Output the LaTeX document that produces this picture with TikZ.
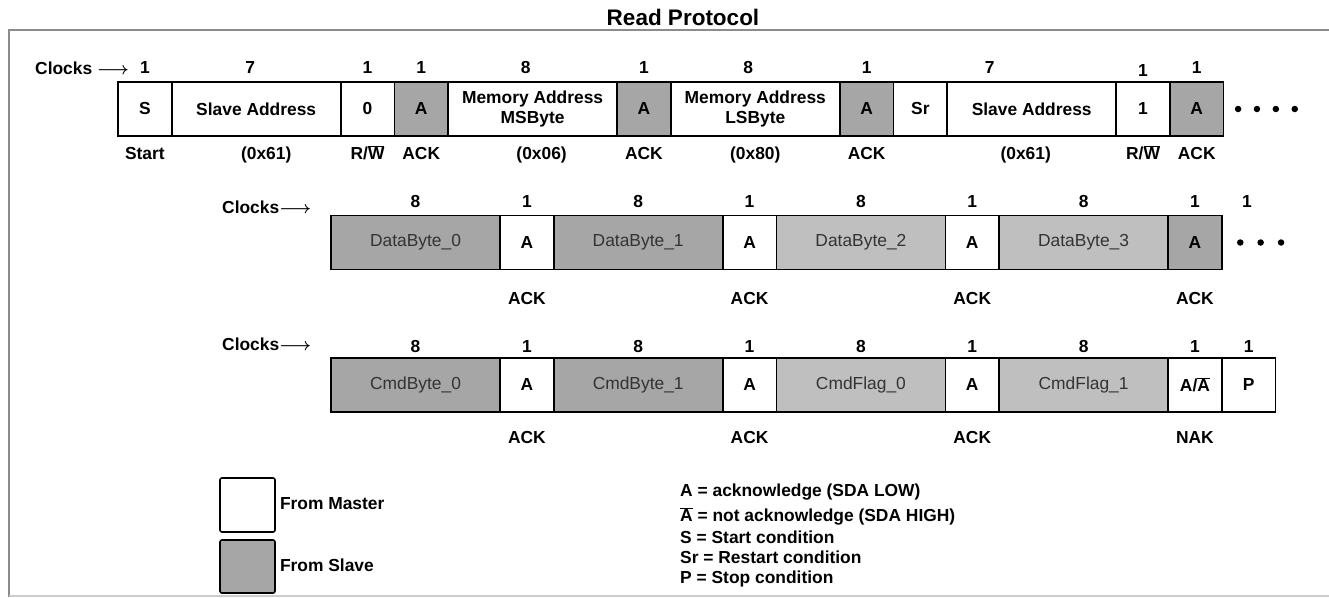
\documentclass[tikz,border=0pt]{standalone}
\usepackage{fontspec}
\setmainfont{Liberation Sans}
\usetikzlibrary{positioning}
\definecolor{slavegray}{rgb}{0.65,0.65,0.65}
\definecolor{datagray}{rgb}{0.75,0.75,0.75}
\definecolor{framegray}{rgb}{0.55,0.55,0.55}
\newcommand{\ovl}[1]{$\overline{\mbox{#1}}$}

\begin{document}
\begin{tikzpicture}[
x=1pt, y=-1pt,
node distance= 0pt,
bitbox/.style  = {draw, line width=1.6pt, fill=white,
                  minimum width=53.7pt, minimum height=54pt,
                  inner sep=0pt, outer sep=0pt, align=center,
                  font=\bfseries\fontsize{17.4}{20}\selectfont},
bytebox/.style = {bitbox, minimum width=169pt},
slavefill/.style = {fill=slavegray},
databox/.style = {bytebox, fill=#1, text=black!80,
                  font=\fontsize{17.4}{20}\selectfont},
numtext/.style = {inner sep=0pt, text height=12.5pt, text depth=3pt,
                  font=\bfseries\fontsize{17.4}{20}\selectfont},
clocks/.style  = {numtext, anchor=west,
                  font=\bfseries\boldmath\fontsize{17.4}{20}\selectfont},
moredot/.style = {circle, fill, inner sep=0pt, minimum size=6.5pt},
legendbox/.style = {draw, line width=1.6pt, rounded corners=2pt, fill=#1,
                  minimum width=55pt, minimum height=54pt},
                    ]
\useasboundingbox (0,0) rectangle (1329,597);
\draw[line width=2pt, framegray] (1329,30) -- (9,30) -- (9,597);
\draw[line width=1.2pt, black!20] (9,596) -- (1329,596);
\node[font=\bfseries\fontsize{22.5}{24}\selectfont] (title) at (683,17) {Read Protocol};

\node[bitbox] (s) at (144.85,109)         {S};
\node[bytebox,right=of s]       (sa1)    {Slave Address};
\node[bitbox,right=of sa1]      (w)      {0};
\node[bitbox,slavefill,right=of w]   (a1) {A};
\node[bytebox,right=of a1]      (msb)    {Memory Address\\MSByte};
\node[bitbox,slavefill,right=of msb] (a2) {A};
\node[bytebox,right=of a2]      (lsb)    {Memory Address\\LSByte};
\node[bitbox,slavefill,right=of lsb] (a3) {A};
\node[bitbox,right=of a3]       (sr)     {Sr};
\node[bytebox,right=of sr]      (sa2)    {Slave Address};
\node[bitbox,right=of sa2]      (r)      {1};
\node[bitbox,slavefill,right=of r]   (a4) {A};
\node[moredot,right=11pt of a4] (m1a) {};
\node[moredot,right=12pt of m1a] (m1b) {};
\node[moredot,right=12pt of m1b] (m1c) {};
\node[moredot,right=12pt of m1c] (m1d) {};

\node[clocks] (clk1) at (35,69.5) {Clocks $\longrightarrow$};
\node[numtext,above=5pt of s]               (n1a) {1};
\node[numtext,above=5pt of sa1,xshift=-6pt] (n1b) {7};
\node[numtext,above=5pt of w]               (n1c) {1};
\node[numtext,above=5pt of a1]              (n1d) {1};
\node[numtext,above=5pt of msb,xshift=-7pt] (n1e) {8};
\node[numtext,above=5pt of a2]              (n1f) {1};
\node[numtext,above=5pt of lsb,xshift=-7pt] (n1g) {8};
\node[numtext,above=5pt of a3]              (n1h) {1};
\node[numtext,above=5pt of sa2,xshift=-42pt] (n1i) {7};
\node[numtext,above=5pt of r,yshift=-3pt]   (n1j) {1};
\node[numtext,above=5pt of a4]              (n1k) {1};

\node[numtext,below=11pt of s]               (l1a) {Start};
\node[numtext,below=11pt of sa1,xshift=10pt] (l1b) {(0x61)};
\node[numtext,below=11pt of w]               (l1c) {R/\ovl{W}};
\node[numtext,below=11pt of a1]              (l1d) {ACK};
\node[numtext,below=11pt of msb,xshift=9pt]  (l1e) {(0x06)};
\node[numtext,below=11pt of a2]              (l1f) {ACK};
\node[numtext,below=11pt of lsb]             (l1g) {(0x80)};
\node[numtext,below=11pt of a3]              (l1h) {ACK};
\node[numtext,below=11pt of sa2,xshift=-6pt] (l1i) {(0x61)};
\node[numtext,below=11pt of r]               (l1j) {R/\ovl{W}};
\node[numtext,below=11pt of a4]              (l1k) {ACK};

\node[databox=slavegray] (d0) at (415.5,242.5) {DataByte\_0};
\node[bitbox,right=of d0]              (a5) {A};
\node[databox=slavegray,right=of a5]   (d1) {DataByte\_1};
\node[bitbox,right=of d1]              (a6) {A};
\node[databox=datagray,right=of a6]    (d2) {DataByte\_2};
\node[bitbox,right=of d2]              (a7) {A};
\node[databox=datagray,right=of a7]    (d3) {DataByte\_3};
\node[bitbox,slavefill,right=of d3]    (a8) {A};
\node[moredot,right=15pt of a8]   (m2a) {};
\node[moredot,right=13.5pt of m2a] (m2b) {};
\node[moredot,right=13.5pt of m2b] (m2c) {};

\node[clocks] (clk2) at (222,208.5) {Clocks$\longrightarrow$};
\node[numtext,above=5pt of d0] (n2a) {8};
\node[numtext,above=5pt of a5] (n2b) {1};
\node[numtext,above=5pt of d1] (n2c) {8};
\node[numtext,above=5pt of a6] (n2d) {1};
\node[numtext,above=5pt of d2] (n2e) {8};
\node[numtext,above=5pt of a7] (n2f) {1};
\node[numtext,above=5pt of d3] (n2g) {8};
\node[numtext,above=5pt of a8] (n2h) {1};
\node[numtext,right=42pt of n2h] (n2i) {1};

\node[numtext,below=22pt of a5] (l2a) {ACK};
\node[numtext,below=22pt of a6] (l2b) {ACK};
\node[numtext,below=22pt of a7] (l2c) {ACK};
\node[numtext,below=22pt of a8] (l2d) {ACK};

\node[databox=slavegray] (c0) at (415.5,385) {CmdByte\_0};
\node[bitbox,right=of c0]              (a9)  {A};
\node[databox=slavegray,right=of a9]   (c1)  {CmdByte\_1};
\node[bitbox,right=of c1]              (a10) {A};
\node[databox=datagray,right=of a10]   (f0)  {CmdFlag\_0};
\node[bitbox,right=of f0]              (a11) {A};
\node[databox=datagray,right=of a11]   (f1)  {CmdFlag\_1};
\node[bitbox,right=of f1]              (nak) {A/\ovl{A}};
\node[bitbox,right=of nak]             (p)   {P};

\node[clocks] (clk3) at (222,345.5) {Clocks$\longrightarrow$};
\node[numtext,above=2pt of c0]  (n3a) {8};
\node[numtext,above=2pt of a9]  (n3b) {1};
\node[numtext,above=2pt of c1]  (n3c) {8};
\node[numtext,above=2pt of a10] (n3d) {1};
\node[numtext,above=2pt of f0]  (n3e) {8};
\node[numtext,above=2pt of a11] (n3f) {1};
\node[numtext,above=2pt of f1]  (n3g) {8};
\node[numtext,above=2pt of nak] (n3h) {1};
\node[numtext,above=2pt of p]   (n3i) {1};

\node[numtext,below=19pt of a9]  (l3a) {ACK};
\node[numtext,below=19pt of a10] (l3b) {ACK};
\node[numtext,below=19pt of a11] (l3c) {ACK};
\node[numtext,below=19pt of nak] (l3d) {NAK};

\node[legendbox=white] (km) at (247.5,505) {};
\node[legendbox=slavegray,minimum height=53pt] (ks) at (247.5,566.5) {};
\node[numtext,right=4pt of km] (kml) {From Master};
\node[numtext,right=4pt of ks] (ksl) {From Slave};
\node[inner sep=0pt, align=left, anchor=north west,
      font=\bfseries\fontsize{17.4}{20}\selectfont] (defs) at (680,483.5)
     {A = acknowledge (SDA LOW)\\[5pt]
      \ovl{A} = not acknowledge (SDA HIGH)\\[2pt]
      S = Start condition\\
      Sr = Restart condition\\
      P = Stop condition};
\end{tikzpicture}
\end{document}
